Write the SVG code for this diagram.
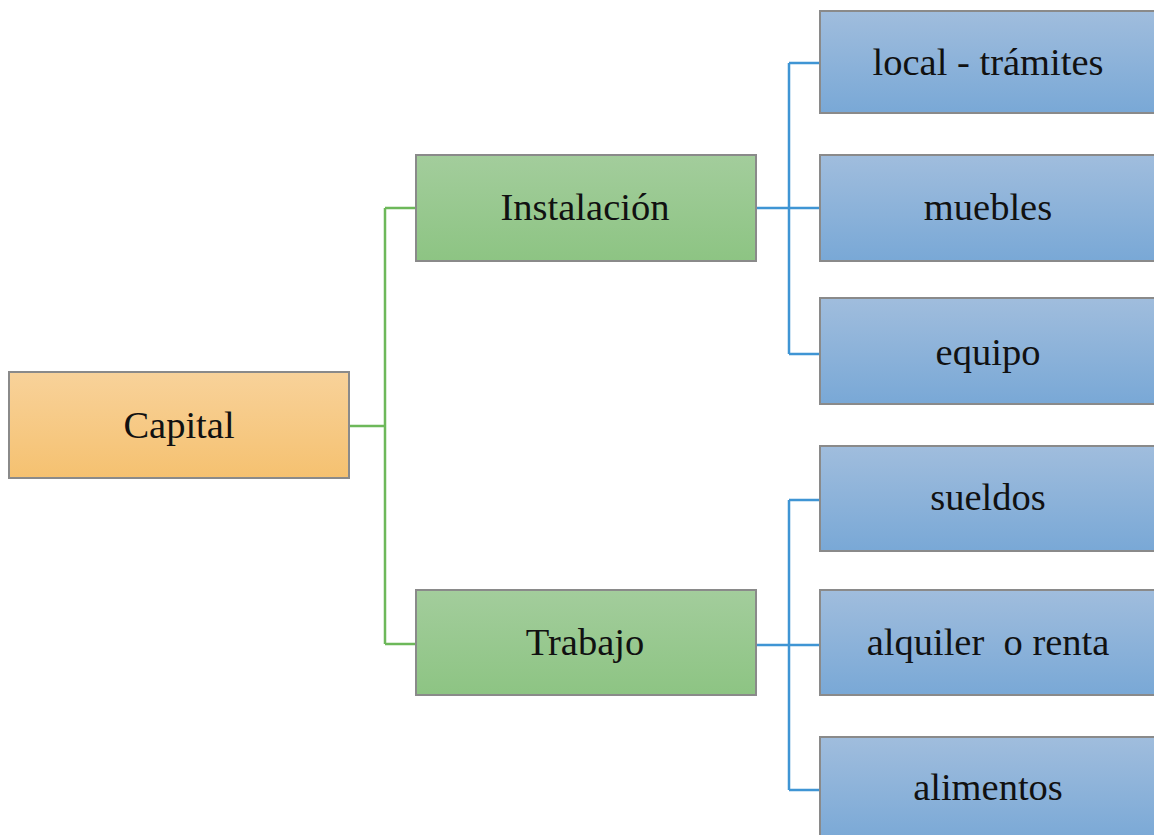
<svg xmlns="http://www.w3.org/2000/svg" width="1154" height="835" viewBox="0 0 1154 835">
<style>
.box{stroke:#8a8a8a;stroke-width:2}
.lbl{font-family:"Liberation Serif","Times New Roman",serif;font-size:38.5px;fill:#111;text-anchor:middle;dominant-baseline:central;white-space:pre}
.cg{stroke:#6db85a;stroke-width:2.5;fill:none}
.cb{stroke:#3f95d4;stroke-width:2.5;fill:none}
</style>
<defs>
<linearGradient id="gO" x1="0" y1="0" x2="0" y2="1"><stop offset="0" stop-color="#f8d29a"/><stop offset="1" stop-color="#f5c170"/></linearGradient>
<linearGradient id="gG" x1="0" y1="0" x2="0" y2="1"><stop offset="0" stop-color="#a3cd9c"/><stop offset="1" stop-color="#8dc483"/></linearGradient>
<linearGradient id="gB" x1="0" y1="0" x2="0" y2="1"><stop offset="0" stop-color="#a0bddd"/><stop offset="1" stop-color="#79a8d6"/></linearGradient>
</defs>
<rect width="1154" height="835" fill="#fff"/>
<g id="connectors">
<path class="cg" d="M349 426H385M385 208V644M385 208H416M385 644H416"/>
<path class="cb" d="M789 63V354M789 63H820M789 208H820M789 354H820"/>
<path class="cb" d="M789 500V790M789 500H820M789 645H820M789 790H820"/>
<path class="cb" stroke-width="4" d="M756 208H789M756 645H789"/>
</g>
<g id="capital"><rect class="box" x="9" y="372" width="340" height="106" fill="url(#gO)"/><text class="lbl" x="179" y="425">Capital</text></g>
<g id="instalacion"><rect class="box" x="416" y="155" width="340" height="106" fill="url(#gG)"/><text class="lbl" x="585" y="207">Instalación</text></g>
<g id="trabajo"><rect class="box" x="416" y="590" width="340" height="105" fill="url(#gG)"/><text class="lbl" x="585" y="642">Trabajo</text></g>
<g id="local"><rect class="box" x="820" y="11" width="340" height="102" fill="url(#gB)"/><text class="lbl" x="988" y="62">local - trámites</text></g>
<g id="muebles"><rect class="box" x="820" y="155" width="340" height="106" fill="url(#gB)"/><text class="lbl" x="988" y="207">muebles</text></g>
<g id="equipo"><rect class="box" x="820" y="298" width="340" height="106" fill="url(#gB)"/><text class="lbl" x="988" y="352">equipo</text></g>
<g id="sueldos"><rect class="box" x="820" y="446" width="340" height="105" fill="url(#gB)"/><text class="lbl" x="988" y="497">sueldos</text></g>
<g id="alquiler"><rect class="box" x="820" y="590" width="340" height="105" fill="url(#gB)"/><text class="lbl" x="988" y="642" xml:space="preserve">alquiler  o renta</text></g>
<g id="alimentos"><rect class="box" x="820" y="737" width="340" height="106" fill="url(#gB)"/><text class="lbl" x="988" y="787">alimentos</text></g>
</svg>
